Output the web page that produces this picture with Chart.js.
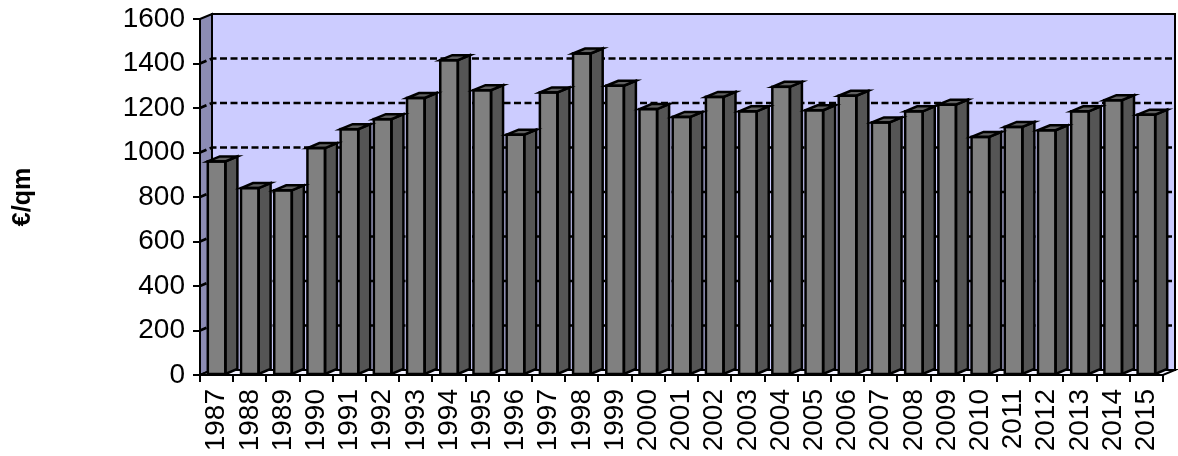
<!DOCTYPE html>
<html lang="de">
<head>
    <meta charset="UTF-8" />
    <title>€/qm</title>
    <script src="https://cdn.jsdelivr.net/npm/chart.js"></script>
    <style>
        body { margin: 0; background: #fff; }
    </style>
</head>
<body>
    <canvas id="priceChart" width="1178" height="456"></canvas>

    <script>
        // Daten
        const years = ['1987', '1988', '1989', '1990', '1991', '1992', '1993', '1994', '1995', '1996',
            '1997', '1998', '1999', '2000', '2001', '2002', '2003', '2004', '2005', '2006',
            '2007', '2008', '2009', '2010', '2011', '2012', '2013', '2014', '2015'];
        const prices = [960, 840, 830, 1020, 1105, 1150, 1245, 1415, 1280, 1080,
            1270, 1445, 1300, 1195, 1160, 1250, 1185, 1295, 1190, 1255,
            1135, 1185, 1215, 1070, 1115, 1100, 1185, 1235, 1170];
        const yMax = 1600;
        const yStep = 200;

        // 3D-Tiefe (Pixel)
        const DX = 12, DY = 5;

        function poly(ctx, pts, fill) {
            ctx.beginPath();
            ctx.moveTo(pts[0][0], pts[0][1]);
            for (let i = 1; i < pts.length; i++) ctx.lineTo(pts[i][0], pts[i][1]);
            ctx.closePath();
            if (fill) { ctx.fillStyle = fill; ctx.fill(); }
            ctx.stroke();
        }

        const threeD = {
            id: 'threeD',
            beforeDraw(chart) {
                const { ctx, chartArea: a, scales: { y } } = chart;
                ctx.save();
                ctx.lineWidth = 2;
                ctx.strokeStyle = '#000';
                // Rückwand
                poly(ctx, [[a.left + DX, a.top - DY], [a.right + DX, a.top - DY],
                    [a.right + DX, a.bottom - DY], [a.left + DX, a.bottom - DY]], '#CCCCFF');
                // Seitenwand
                poly(ctx, [[a.left, a.bottom], [a.left, a.top], [a.left + DX, a.top - DY],
                    [a.left + DX, a.bottom - DY]], '#8C8CB4');
                // Boden
                poly(ctx, [[a.left, a.bottom], [a.left + DX, a.bottom - DY],
                    [a.right + DX, a.bottom - DY], [a.right, a.bottom]], '#F2F2FF');
                // Gitternetz gestrichelt
                ctx.lineWidth = 2.7;
                ctx.setLineDash([7, 3.5]);
                for (let v = yStep; v < yMax; v += yStep) {
                    const py = y.getPixelForValue(v);
                    ctx.beginPath();
                    ctx.moveTo(a.left, py);
                    ctx.lineTo(a.left + DX, py - DY);
                    ctx.lineTo(a.right + DX, py - DY);
                    ctx.stroke();
                }
                ctx.restore();
            },
            afterDatasetsDraw(chart) {
                const { ctx } = chart;
                ctx.save();
                ctx.lineWidth = 2.5;
                ctx.strokeStyle = '#000';
                ctx.lineJoin = 'miter';
                chart.getDatasetMeta(0).data.forEach(bar => {
                    const { x, y, base, width } = bar.getProps(['x', 'y', 'base', 'width'], true);
                    const l = x - width / 2, r = x + width / 2;
                    // Seite
                    poly(ctx, [[r, y], [r + DX, y - DY], [r + DX, base - DY], [r, base]], '#555555');
                    // Deckel
                    poly(ctx, [[l, y], [l + DX, y - DY], [r + DX, y - DY], [r, y]], '#606060');
                    // Vorderseite Rahmen
                    ctx.strokeRect(l, y, width, base - y);
                });
                ctx.restore();
            }
        };

        const font = { family: '"Liberation Sans", Arial, sans-serif', size: 28 };

        function noPad(s) {
            s.paddingTop = 0;
            s.paddingBottom = 0;
            s.paddingLeft = 0;
            s.paddingRight = 0;
        }

        new Chart(document.getElementById('priceChart').getContext('2d'), {
            type: 'bar',
            data: {
                labels: years,
                datasets: [{
                    data: prices,
                    backgroundColor: '#808080',
                    borderWidth: 0,
                    categoryPercentage: 1.0,
                    barPercentage: 0.53
                }]
            },
            options: {
                responsive: false,
                animation: false,
                layout: { padding: { top: 19, right: 15, left: 0, bottom: 0 } },
                plugins: { legend: { display: false }, tooltip: { enabled: false } },
                scales: {
                    x: {
                        afterFit: s => { s.height = 81; noPad(s); },
                        grid: { display: true, drawOnChartArea: false, offset: true, tickLength: 7, color: '#000', lineWidth: 2 },
                        border: { display: true, color: '#000', width: 2 },
                        ticks: { color: '#000', font: font, minRotation: 90, maxRotation: 90, padding: 7, autoSkip: false }
                    },
                    y: {
                        min: 0,
                        max: yMax,
                        afterFit: s => { s.width = 200; noPad(s); },
                        grid: { display: true, drawOnChartArea: false, tickLength: 7, color: '#000', lineWidth: 2 },
                        border: { display: true, color: '#000', width: 2 },
                        ticks: { stepSize: yStep, color: '#000', font: font, padding: 8, callback: v => String(v) },
                        title: {
                            display: true,
                            text: '€/qm',
                            color: '#000',
                            font: { family: '"Liberation Sans", Arial, sans-serif', size: 25, weight: 'bold' },
                            padding: { top: 8, bottom: 0 }
                        }
                    }
                }
            },
            plugins: [threeD]
        });
    </script>
</body>
</html>
